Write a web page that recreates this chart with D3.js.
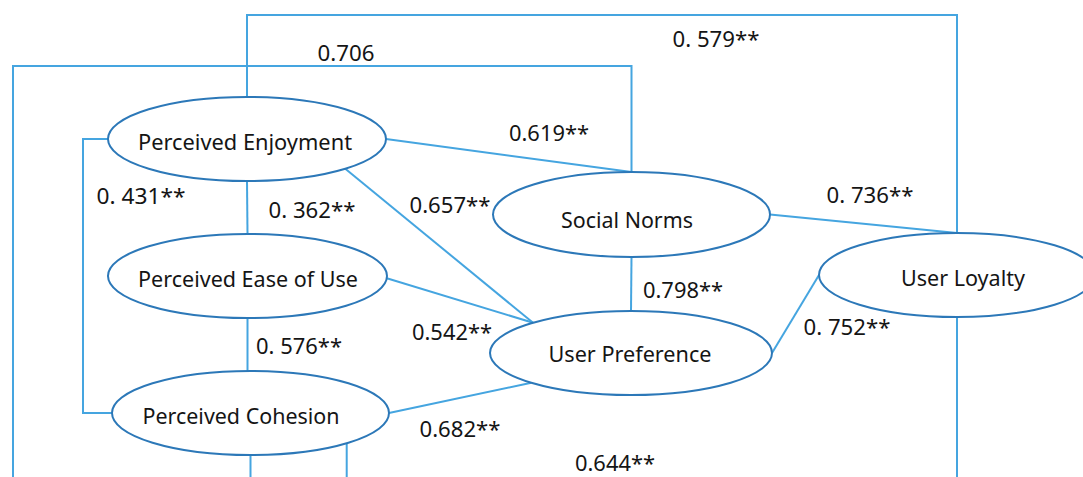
<!DOCTYPE html>
<html>
<head>
<meta charset="utf-8">
<script src="https://cdn.jsdelivr.net/npm/d3@7"></script>
<style>
  html, body { margin: 0; padding: 0; background: #fff; }
  svg { display: block; }
  text { font-family: "Noto Sans", "Open Sans", sans-serif; fill: #151515; }
</style>
</head>
<body>
<script>
// constructs in the model
const constructs = [
    "Perceived Enjoyment",
    "Perceived Ease of Use",
    "Perceived Cohesion",
    "Social Norms",
    "User Preference",
    "User Loyalty"
];

// correlations between constructs (source, target, coefficient text)
const edgeSources = ["Perceived Enjoyment", "Perceived Enjoyment", "Perceived Ease of Use", "Perceived Cohesion",
    "Perceived Enjoyment", "Perceived Ease of Use", "Social Norms", "Social Norms", "User Preference",
    "Perceived Enjoyment", "Perceived Enjoyment", "Hidden", "Perceived Cohesion", "Perceived Cohesion", "User Loyalty"];
const edgeTargets = ["Social Norms", "User Preference", "User Preference", "User Preference",
    "Perceived Ease of Use", "Perceived Cohesion", "User Preference", "User Loyalty", "User Loyalty",
    "Perceived Cohesion", "User Loyalty", "Social Norms", "Hidden", "Hidden", "Hidden"];
const coefficients = ["0.619**", "0.657**", "0.542**", "0.682**",
    "0. 362**", "0. 576**", "0.798**", "0. 736**", "0. 752**",
    "0. 431**", "0. 579**", "0.706", null, "0.644**", null];

const width = 1083, height = 477;

// diagram layout (pixel positions of the ellipses)
const nodeLayout = {
    "Perceived Enjoyment":   {cx: 247,   cy: 139, rx: 139,   ry: 42, tw: 214, tx: 245, ty: 141},
    "Perceived Ease of Use": {cx: 247.5, cy: 276, rx: 139.5, ry: 42, tw: 220, tx: 248, ty: 278},
    "Perceived Cohesion":    {cx: 250.5, cy: 413, rx: 138.5, ry: 42, tw: 197, tx: 241, ty: 415},
    "Social Norms":          {cx: 631.5, cy: 214.5, rx: 138.5, ry: 42.5, tw: 132, tx: 627, ty: 219},
    "User Preference":       {cx: 631,   cy: 353, rx: 141,   ry: 42, tw: 163, tx: 630, ty: 353},
    "User Loyalty":          {cx: 957,   cy: 275, rx: 138,   ry: 42, tw: 124, tx: 963, ty: 277}
};

// routing: anchor angles on the ellipses plus elbow waypoints
const routes = [
    {a: 0,   b: -90},
    {a: 45,  b: 226},
    {a: 3,   b: 226},
    {a: 0,   b: 135},
    {a: 90,  b: -90},
    {a: 90,  b: -90, vertical: true},
    {a: 90,  b: -90},
    {a: 0,   b: -90},
    {a: 0,   b: 180},
    {a: 180, b: 180, via: [[83, null], [83, "b"]]},
    {a: -90, b: -90, via: [["a", 15], ["b", 15]]},
    {start: [13, 500], b: -90, via: [[13, 66], ["b", 66]]},
    {a: 90,  end: "down"},
    {a: 46,  end: "down"},
    {a: 90,  end: "down"}
];

// label placement (centre x, centre y, width)
const labelLayout = [
    [549, 132, 80], [450, 204, 81], [452, 331, 80], [460, 428, 81],
    [312, 209, 87], [299, 345, 86], [683, 289, 80], [870, 194, 87], [847, 326, 87],
    [141, 195, 89], [716, 38, 87], [346, 52, 57], null, [615, 462, 80], null
];

const edges = edgeSources.map((s, i) => ({
    source: s, target: edgeTargets[i], label: coefficients[i], route: routes[i], pos: labelLayout[i]
}));

const svg = d3.select("body").append("svg")
    .attr("width", width)
    .attr("height", height);

function anchor(name, angle) {
    const n = nodeLayout[name];
    const t = angle * Math.PI / 180;
    return [n.cx + n.rx * Math.cos(t), n.cy + n.ry * Math.sin(t)];
}

function edgePoints(e) {
    const r = e.route;
    const p0 = r.start ? r.start : anchor(e.source, r.a);
    let p1;
    if (r.end === "down") p1 = [p0[0], height + 20];
    else p1 = anchor(e.target, r.b);
    if (r.vertical) p1 = [p0[0], p1[1]];
    const pts = [p0];
    (r.via || []).forEach(([x, y]) => {
        const px = x === "a" ? p0[0] : x === "b" ? p1[0] : x;
        const py = y === null ? p0[1] : y === "b" ? p1[1] : y;
        pts.push([px, py]);
    });
    pts.push(p1);
    return pts;
}

const line = d3.line();

svg.append("g")
    .attr("fill", "none")
    .attr("stroke", "#45a5e0")
    .attr("stroke-width", 2)
    .selectAll("path")
    .data(edges)
    .join("path")
    .attr("d", d => line(edgePoints(d)));

const node = svg.append("g")
    .selectAll("g")
    .data(constructs)
    .join("g");

node.append("ellipse")
    .attr("cx", d => nodeLayout[d].cx)
    .attr("cy", d => nodeLayout[d].cy)
    .attr("rx", d => nodeLayout[d].rx)
    .attr("ry", d => nodeLayout[d].ry)
    .attr("fill", "#fff")
    .attr("stroke", "#2c78b8")
    .attr("stroke-width", 2);

node.append("text")
    .attr("x", d => nodeLayout[d].tx)
    .attr("y", d => nodeLayout[d].ty)
    .attr("text-anchor", "middle")
    .attr("dominant-baseline", "central")
    .attr("font-size", 22)
    .attr("textLength", d => nodeLayout[d].tw)
    .attr("lengthAdjust", "spacingAndGlyphs")
    .text(d => d);

svg.append("g")
    .selectAll("text")
    .data(edges.filter(e => e.label))
    .join("text")
    .attr("x", d => d.pos[0])
    .attr("y", d => d.pos[1])
    .attr("text-anchor", "middle")
    .attr("dominant-baseline", "central")
    .attr("font-size", 22)
    .attr("textLength", d => d.pos[2])
    .attr("lengthAdjust", "spacingAndGlyphs")
    .text(d => d.label);
</script>
</body>
</html>
